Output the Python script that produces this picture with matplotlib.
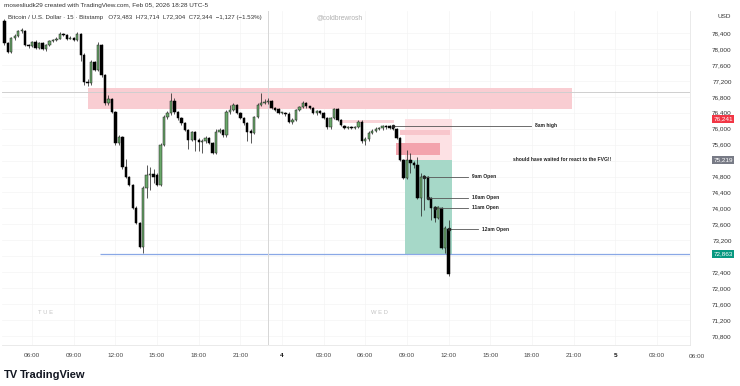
import numpy as np
import matplotlib.pyplot as plt
from matplotlib.patches import Rectangle
from matplotlib.ticker import FixedLocator

plt.rcParams['font.family'] = ['Liberation Sans', 'DejaVu Sans']

# 15 minute candles, first one at 04:00 on the 3rd (hours counted from 3rd 00:00)
t_start = 4.0
opens = [78700, 78150, 77930, 78270, 78330, 78440, 78450, 78100, 78080, 78170,
         78020, 78150, 78000, 78100, 78200, 78230, 78260, 78380, 78350, 78250,
         78280, 78230, 78380, 77850, 77170, 77140, 77670, 77480, 78100, 77350,
         76650, 76750, 76420, 75640, 75790, 75040, 74790, 74590, 74010, 73630,
         73030, 74510, 74840, 74860, 74830, 74590, 75590, 76290, 76390, 76700,
         76420, 76270, 76140, 75970, 75720, 75920, 75720, 75670, 75690, 75770,
         75640, 75390, 75920, 75970, 75840, 76420, 76470, 76590, 76390, 76270,
         76140, 75950, 75890, 76290, 76590, 76640, 76670, 76690, 76520, 76500,
         76390, 76400, 76380, 76170, 76220, 76470, 76540, 76640, 76560, 76520,
         76390, 76440, 76390, 76270, 76040, 76270, 76490, 76220, 76060, 76020,
         76030, 76020, 76040, 76170, 75690, 75740, 75900, 75950, 76000, 76010,
         76070, 76060, 76040, 76000, 75770, 75220, 74770, 75220, 75150, 75090,
         74260, 74790, 74780, 74260, 74030, 73760, 74010, 73010, 73483]
highs = [78740, 78180, 78300, 78380, 78470, 78520, 78480, 78130, 78200, 78230,
         78180, 78180, 78130, 78230, 78260, 78290, 78420, 78400, 78370, 78320,
         78300, 78420, 78400, 77900, 77250, 77720, 77700, 78180, 78130, 77380,
         76850, 76780, 76450, 75850, 75820, 75240, 74820, 74620, 74050, 73660,
         74560, 75100, 75050, 75000, 74900, 75640, 76340, 76450, 76900, 76760,
         76450, 76300, 76170, 76000, 75950, 75950, 75760, 75740, 75820, 75800,
         75670, 75990, 76020, 76000, 76470, 76600, 76650, 76620, 76420, 76300,
         76170, 76000, 76330, 76640, 76900, 76740, 76760, 76720, 76550, 76530,
         76430, 76420, 76410, 76260, 76500, 76580, 76700, 76680, 76580, 76550,
         76480, 76460, 76420, 76300, 76300, 76530, 76520, 76250, 76100, 76070,
         76060, 76080, 76220, 76230, 75790, 75950, 76000, 76050, 76050, 76100,
         76090, 76090, 76070, 76020, 75800, 75250, 75460, 75400, 75200, 75300,
         74900, 74850, 74820, 74290, 74060, 74060, 74040, 73550, 73714]
lows = [78100, 77900, 77900, 78230, 78300, 78400, 78080, 78020, 78050, 77990,
        77990, 77980, 77960, 78080, 78180, 78200, 78240, 78320, 78220, 78240,
        78200, 78200, 77700, 77100, 77080, 77100, 77440, 77440, 77300, 76600,
        76600, 76390, 75600, 75600, 74990, 74760, 74560, 73980, 73600, 73000,
        72880, 74250, 74450, 74650, 74560, 74560, 75560, 76250, 76350, 76380,
        76230, 76100, 75930, 75500, 75690, 75450, 75450, 75400, 75640, 75610,
        75360, 75360, 75880, 75800, 75800, 76380, 76440, 76360, 76240, 76100,
        75700, 75650, 75860, 76260, 76560, 76610, 76630, 76490, 76440, 76360,
        76360, 76330, 76140, 76130, 76190, 76440, 76510, 76530, 76490, 76360,
        76350, 76360, 76240, 76000, 76000, 76240, 76190, 76060, 75990, 75990,
        75990, 76000, 76010, 75640, 75600, 75700, 75860, 75920, 75970, 75970,
        76000, 75990, 75960, 75740, 75180, 74740, 74740, 74900, 75020, 74230,
        73800, 73960, 74230, 73700, 73660, 73730, 72980, 72880, 72304]
closes = [78150, 77930, 78270, 78330, 78440, 78480, 78100, 78080, 78170, 78020,
          78150, 78000, 78100, 78200, 78230, 78260, 78380, 78350, 78250, 78280,
          78230, 78380, 77850, 77170, 77140, 77670, 77480, 78100, 77350, 76650,
          76750, 76420, 75640, 75790, 75040, 74790, 74590, 74010, 73630, 73030,
          74510, 74840, 74860, 74790, 74590, 75590, 76290, 76390, 76700, 76420,
          76270, 76140, 75970, 75720, 75920, 75720, 75670, 75690, 75770, 75640,
          75390, 75920, 75970, 75840, 76420, 76470, 76590, 76390, 76270, 76140,
          75920, 75890, 76290, 76590, 76640, 76670, 76690, 76520, 76470, 76390,
          76400, 76380, 76170, 76220, 76470, 76540, 76640, 76560, 76520, 76390,
          76440, 76390, 76270, 76040, 76270, 76490, 76220, 76090, 76020, 76030,
          76020, 76040, 76170, 75690, 75740, 75900, 75950, 76000, 76010, 76070,
          76040, 76020, 76000, 75770, 75220, 74770, 75220, 75150, 75090, 74260,
          74790, 74780, 74260, 74010, 73760, 74030, 73010, 73500, 72344]

price_ticks = list(range(70800, 78401, 400))
hidden_prices = [75200, 72800]   # covered by the price flags
time_ticks = [6, 9, 12, 15, 18, 21, 24, 27, 30, 33, 36, 39, 42, 45, 48, 51]
time_labels = ["06:00", "09:00", "12:00", "15:00", "18:00", "21:00", "4", "03:00",
               "06:00", "09:00", "12:00", "15:00", "18:00", "21:00", "5", "03:00"]

# drawings on the chart
zone_t = (10.0, 44.9)
zone_p = (76494, 77021)
grey_level = 76930
blue_level = 72863
blue_from = 10.9
stop_level = 76241
entry_level = 75219
pos_t = (32.86, 36.25)
fvg_t = (32.2, 35.4)
fvg_p = (75340, 75641)
band_t = (32.5, 36.1)
band_p = (75842, 75967)
thin_t = (28.3, 32.1)
thin_p = (76140, 76218)
cursor_t = 23.0

note_labels = ["8am high", "9am Open", "10am Open", "11am Open", "12am Open"]
note_prices = [76070, 74790, 74262, 74020, 73483]
note_t0 = [32.0, 34.25, 34.5, 35.0, 36.0]
note_t1 = [41.95, 37.4, 37.4, 37.4, 38.1]
comment = "should have waited for react to the FVG!!"

# ---------------------------------------------------------------------------
fig = plt.figure(figsize=(7.4, 3.86), dpi=100)
ax = fig.add_axes([2 / 740, 41 / 386, 688 / 740, 334 / 386])
ax.set_xlim(3.83, 53.39)
ax.set_ylim(70575, 78952)

t = t_start + 0.25 * np.arange(len(closes))
o = np.array(opens); c = np.array(closes)
h = np.array(highs); l = np.array(lows)
up = c >= o

# zones first
ax.add_patch(Rectangle((zone_t[0], zone_p[0]), zone_t[1] - zone_t[0], zone_p[1] - zone_p[0],
                       facecolor='#f9cdd2', edgecolor='none', zorder=1))
ax.add_patch(Rectangle((pos_t[0], entry_level), pos_t[1] - pos_t[0], stop_level - entry_level,
                       facecolor='#fde1e4', edgecolor='none', zorder=1))
ax.add_patch(Rectangle((pos_t[0], blue_level), pos_t[1] - pos_t[0], entry_level - blue_level,
                       facecolor='#a6d8c8', edgecolor='none', zorder=1))
ax.add_patch(Rectangle((band_t[0], band_p[0]), band_t[1] - band_t[0], band_p[1] - band_p[0],
                       facecolor='#f8c6cc', edgecolor='none', zorder=1.1))
ax.add_patch(Rectangle((fvg_t[0], fvg_p[0]), fvg_t[1] - fvg_t[0], fvg_p[1] - fvg_p[0],
                       facecolor='#f3a3ad', edgecolor='none', zorder=1.1))
ax.add_patch(Rectangle((thin_t[0], thin_p[0]), thin_t[1] - thin_t[0], thin_p[1] - thin_p[0],
                       facecolor='#f9d3d8', edgecolor='none', zorder=1.1))

ax.axhline(grey_level, color='#cfcfcf', lw=0.7, zorder=1.2)
ax.hlines(blue_level, blue_from, 53.39, color='#8aa8e6', lw=0.9, zorder=1.2)
ax.axvline(cursor_t, color='#d6d6d6', lw=0.7, zorder=1.2)

# candles
ax.vlines(t, l, h, color='#2a2a2a', lw=0.55, zorder=3)
body = np.where(np.abs(c - o) < 20, 20, c - o)
ax.bar(t[up], body[up], bottom=o[up], width=0.17, color='#6aa86a',
       edgecolor='#1e1e1e', linewidth=0.35, zorder=4)
ax.bar(t[~up], body[~up], bottom=o[~up], width=0.17, color='#000000',
       edgecolor='#000000', linewidth=0.35, zorder=4)

# notes
for lab, p, a, b in zip(note_labels, note_prices, note_t0, note_t1):
    ax.plot([a, b], [p, p], color='#555555', lw=0.6, zorder=5)
    ax.plot(a, p, 'o', ms=1.6, color='#222222', zorder=6)
    ax.text(b + 0.3, p, lab, fontsize=3.6, fontweight='bold', color='#222222',
            va='center', ha='left', zorder=6)
ax.text(40.64, entry_level, comment, fontsize=3.6, fontweight='bold', color='#222222',
        va='center', ha='left', zorder=6)

# axes styling
for s in ['top', 'left']:
    ax.spines[s].set_visible(False)
ax.spines['right'].set_color('#e6e6e6')
ax.spines['bottom'].set_color('#e6e6e6')
ax.spines['right'].set_linewidth(0.6)
ax.spines['bottom'].set_linewidth(0.6)

ax.yaxis.tick_right()
ax.yaxis.set_major_locator(FixedLocator(price_ticks))
ax.set_yticklabels(["" if p in hidden_prices else f"{p:,}" for p in price_ticks])
ax.tick_params(axis='y', length=0, pad=23, labelsize=4.6, labelcolor='#333333')
for lab in ax.get_yticklabels():
    lab.set_horizontalalignment('center')

ax.xaxis.set_major_locator(FixedLocator(time_ticks))
ax.set_xticklabels(time_labels)
ax.tick_params(axis='x', length=0, pad=6, labelsize=4.6, labelcolor='#444444')
for lab in ax.get_xticklabels():
    if lab.get_text() in ("4", "5"):
        lab.set_color('#111111')
        lab.set_fontweight('bold')
ax.grid(True, color='#f4f4f4', lw=0.5, zorder=0)
ax.set_axisbelow(True)

# coloured price flags
for p, col in [(stop_level, '#f23645'), (entry_level, '#787b86'), (blue_level, '#089981')]:
    ax.text(1.048, p, f"{p:,}", transform=ax.get_yaxis_transform(), fontsize=4.6,
            color='white', ha='center', va='center', clip_on=False, zorder=10,
            bbox=dict(boxstyle='square,pad=0.25', facecolor=col, edgecolor='none'))

# header and watermarks
fig.text(4 / 740, 1 - 5 / 386, "mosesliudk29 created with TradingView.com, Feb 05, 2026 18:28 UTC-5",
         fontsize=4.6, color='#333333', va='center')
fig.text(8 / 740, 1 - 18 / 386,
         "Bitcoin / U.S. Dollar \u00b7 15 \u00b7 Bitstamp   O73,483  H73,714  L72,304  C72,344  \u22121,127 (\u22121.53%)",
         fontsize=4.4, color='#333333', va='center')
fig.text(340 / 740, 1 - 18 / 386, "@coldbrewrosh", fontsize=4.8, color='#b0b0b0',
         ha='center', va='center')
fig.text(718 / 740, 1 - 17 / 386, "USD", fontsize=4.6, color='#333333', va='center')
fig.text(46 / 740, 1 - 313 / 386, "T U E", fontsize=4.2, color='#c4c4c4', ha='center', va='center')
fig.text(379 / 740, 1 - 313 / 386, "W E D", fontsize=4.2, color='#c4c4c4', ha='center', va='center')
fig.text(697 / 740, 1 - 356 / 386, "06:00", fontsize=4.6, color='#444444', ha='center', va='center')

fig.text(4 / 740, 1 - 375 / 386, "TV", fontsize=8, fontweight='heavy', color='#131722', va='center')
fig.text(20 / 740, 1 - 375 / 386, "TradingView", fontsize=8, fontweight='bold', color='#131722',
         va='center')

fig.savefig("out.png", dpi=100, facecolor='white')
